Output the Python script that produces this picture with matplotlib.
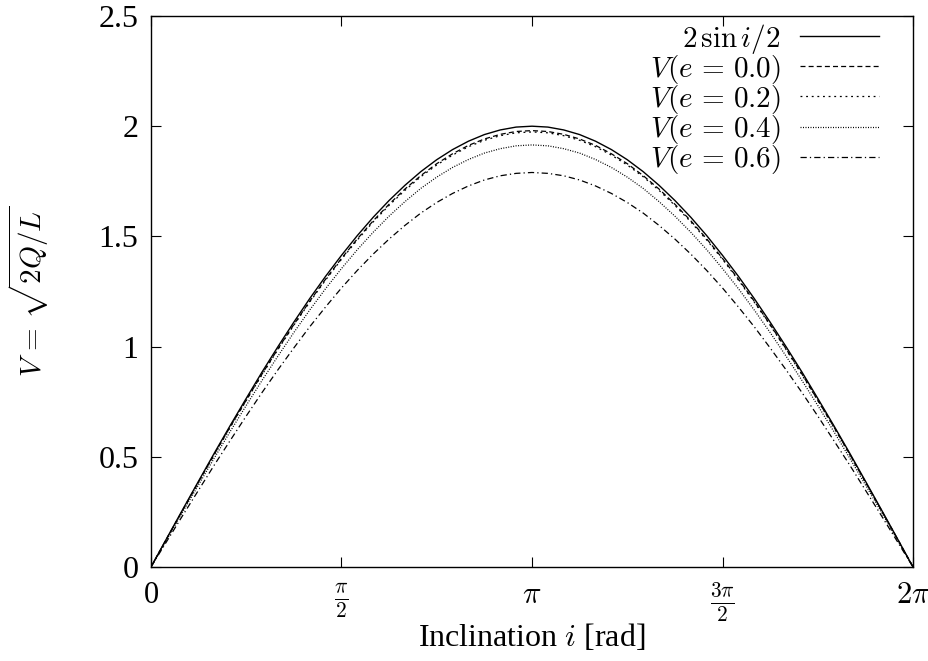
import numpy as np
import matplotlib
matplotlib.use("Agg")
import matplotlib.pyplot as plt

plt.rcParams['font.family'] = ['Liberation Serif', 'DejaVu Serif']
plt.rcParams['mathtext.fontset'] = 'cm'

steps = list(range(49))
sin_half = [0, 0.131, 0.261, 0.390, 0.518, 0.643, 0.765, 0.885, 1.000, 1.111, 1.218, 1.319, 1.414,
            1.504, 1.587, 1.663, 1.732, 1.794, 1.848, 1.894, 1.932, 1.962, 1.983, 1.996, 2.000,
            1.996, 1.983, 1.962, 1.932, 1.894, 1.848, 1.794, 1.732, 1.663, 1.587, 1.504, 1.414,
            1.319, 1.218, 1.111, 1.000, 0.885, 0.765, 0.643, 0.518, 0.390, 0.261, 0.131, 0]
v_e00 = [0, 0.130, 0.258, 0.386, 0.513, 0.637, 0.757, 0.876, 0.990, 1.100, 1.206, 1.306, 1.400,
         1.489, 1.571, 1.646, 1.715, 1.776, 1.830, 1.875, 1.913, 1.942, 1.963, 1.976, 1.980,
         1.976, 1.963, 1.942, 1.913, 1.875, 1.830, 1.776, 1.715, 1.646, 1.571, 1.489, 1.400,
         1.306, 1.206, 1.100, 0.990, 0.876, 0.757, 0.637, 0.513, 0.386, 0.258, 0.130, 0]
v_e02 = [0, 0.129, 0.258, 0.385, 0.511, 0.635, 0.755, 0.873, 0.987, 1.097, 1.202, 1.302, 1.396,
         1.484, 1.566, 1.641, 1.709, 1.771, 1.824, 1.869, 1.907, 1.936, 1.957, 1.970, 1.974,
         1.970, 1.957, 1.936, 1.907, 1.869, 1.824, 1.771, 1.709, 1.641, 1.566, 1.484, 1.396,
         1.302, 1.202, 1.097, 0.987, 0.873, 0.755, 0.635, 0.511, 0.385, 0.258, 0.129, 0]
v_e04 = [0, 0.125, 0.250, 0.373, 0.496, 0.616, 0.733, 0.847, 0.957, 1.064, 1.166, 1.263, 1.354,
         1.440, 1.519, 1.592, 1.658, 1.718, 1.769, 1.813, 1.849, 1.878, 1.898, 1.911, 1.915,
         1.911, 1.898, 1.878, 1.849, 1.813, 1.769, 1.718, 1.658, 1.592, 1.519, 1.440, 1.354,
         1.263, 1.166, 1.064, 0.957, 0.847, 0.733, 0.616, 0.496, 0.373, 0.250, 0.125, 0]
v_e06 = [0, 0.117, 0.234, 0.349, 0.464, 0.575, 0.685, 0.792, 0.895, 0.994, 1.090, 1.180, 1.266,
         1.346, 1.420, 1.488, 1.550, 1.606, 1.654, 1.695, 1.729, 1.756, 1.775, 1.786, 1.790,
         1.786, 1.775, 1.756, 1.729, 1.695, 1.654, 1.606, 1.550, 1.488, 1.420, 1.346, 1.266,
         1.180, 1.090, 0.994, 0.895, 0.792, 0.685, 0.575, 0.464, 0.349, 0.234, 0.117, 0]

xticklabels = ['0', r'$\frac{\pi}{2}$', r'$\pi$', r'$\frac{3\pi}{2}$', r'$2\pi$']
yticks = [0, 0.5, 1, 1.5, 2, 2.5]
yticklabels = ['0', '0.5', '1', '1.5', '2', '2.5']

x = np.array(steps) * np.pi / 24

fig = plt.figure(figsize=(9.29, 6.61), dpi=100)
ax = fig.add_axes([0.1625, 0.1422, 0.8203, 0.8336])

ax.plot(x, sin_half, color='black', lw=1.0, ls='-', label=r'$2\,\sin i/2$')
ax.plot(x, v_e00, color='black', lw=0.9, ls=(0, (4, 2.5)), label=r'$V(e\,=\,0.0)$')
ax.plot(x, v_e02, color='black', lw=0.9, ls=(0, (1.5, 3)), label=r'$V(e\,=\,0.2)$')
ax.plot(x, v_e04, color='black', lw=0.9, ls=(0, (0.8, 1.2)), label=r'$V(e\,=\,0.4)$')
ax.plot(x, v_e06, color='black', lw=0.9, ls=(0, (5, 2.5, 1, 2.5)), label=r'$V(e\,=\,0.6)$')

ax.set_xlim(0, 2 * np.pi)
ax.set_ylim(0, 2.5)
ax.set_xticks(np.arange(5) * np.pi / 2)
ax.set_xticklabels(xticklabels)
ax.set_yticks(yticks)
ax.set_yticklabels(yticklabels)
ax.tick_params(direction='in', length=7, width=0.8, top=True, right=True, labelsize=23, pad=9)
ax.tick_params(axis='x', labelsize=22, pad=10)
for s in ax.spines.values():
    s.set_linewidth(1.0)

ax.set_xlabel(r'Inclination $i$ [rad]', fontsize=23, labelpad=-2)
ax.set_ylabel(r'$V\,=\,\sqrt{2Q/L}$', fontsize=21, labelpad=34)

leg = ax.legend(loc='upper right', bbox_to_anchor=(0.955, 0.99), frameon=False, markerfirst=False,
                fontsize=21, handlelength=2.7, labelspacing=-0.1, borderpad=0, borderaxespad=0,
                handletextpad=0.65)
for t in leg.get_texts():
    t.set_ha('right')

fig.savefig('out.png', dpi=100)
